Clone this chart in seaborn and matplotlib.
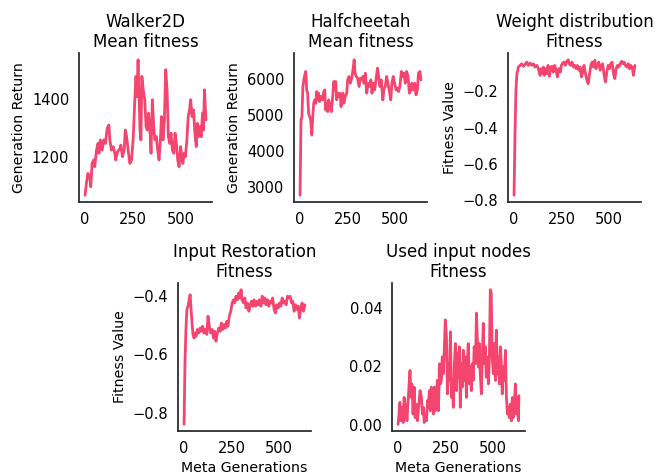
import numpy as np
import pandas as pd
import matplotlib
matplotlib.use("Agg")
import matplotlib.pyplot as plt
import seaborn as sns

# ---------------- data ----------------
walker_gen = [0, 7, 15, 25, 30, 37, 45, 51, 60, 68, 73, 80, 90, 98, 107, 116, 125, 130, 138, 148,
              156, 161, 170, 183, 188, 196, 205, 211, 218, 226, 235, 244, 253, 261, 267, 272, 278, 283, 288, 293,
              298, 305, 313, 320, 326, 333, 341, 346, 353, 360, 366, 374, 381, 388, 395, 401, 409, 416, 423, 430,
              437, 444, 451, 458, 465, 472, 479, 486, 493, 501, 507, 513, 519, 526, 534, 541, 548, 554, 561, 569,
              576, 583, 589, 595, 602, 609, 616, 621, 626, 634]
walker = [1069, 1109, 1144, 1132, 1098, 1178, 1190, 1167, 1224, 1247,
          1213, 1259, 1224, 1259, 1247, 1299, 1310, 1259, 1224, 1236,
          1213, 1190, 1218, 1230, 1241, 1201, 1224, 1293, 1270, 1224,
          1178, 1190, 1270, 1397, 1477, 1408, 1534, 1420, 1293, 1259,
          1477, 1431, 1397, 1305, 1293, 1351, 1282, 1213, 1397, 1305,
          1259, 1270, 1224, 1190, 1259, 1339, 1259, 1328, 1500, 1431,
          1270, 1247, 1282, 1224, 1213, 1282, 1247, 1190, 1167, 1236,
          1201, 1178, 1213, 1201, 1259, 1339, 1362, 1397, 1339, 1362,
          1282, 1236, 1316, 1270, 1305, 1270, 1351, 1293, 1431, 1328]

cheetah_gen = [0, 5, 10, 15, 23, 30, 35, 40, 45, 51, 56, 62, 67, 72, 77, 83, 88, 93, 98, 103,
               110, 118, 125, 130, 135, 140, 146, 151, 158, 165, 172, 178, 183, 188, 193, 198, 203, 211, 216, 221,
               226, 231, 238, 246, 251, 258, 265, 272, 279, 285, 290, 296, 303, 311, 318, 325, 331, 337, 344, 351,
               358, 365, 373, 379, 386, 393, 400, 408, 414, 421, 428, 436, 443, 449, 456, 463, 471, 478, 484, 491,
               498, 506, 513, 519, 526, 534, 541, 548, 554, 561, 569, 576, 583, 589, 596, 604, 611, 618, 624, 632,
               637]
cheetah = [2778, 4861, 4954, 5787, 6065, 6204, 5694, 5602, 5046, 4954,
           4861, 4444, 4954, 5324, 5417, 5324, 5648, 5417, 5602, 5370,
           5509, 5417, 5648, 5694, 5139, 5324, 5093, 5417, 5231, 5093,
           5509, 5926, 5694, 5926, 5417, 5602, 5509, 5602, 5231, 5509,
           5602, 5324, 5509, 5602, 5972, 6065, 5880, 6019, 6250, 6528,
           6157, 6065, 6019, 5787, 6019, 5972, 6065, 5880, 6157, 5602,
           5880, 5787, 5972, 5602, 5880, 5694, 5972, 6296, 6065, 5787,
           5972, 5417, 5741, 5787, 6065, 5880, 5648, 5417, 5880, 6065,
           5880, 5694, 5741, 5648, 5787, 6204, 6065, 6157, 5880, 6204,
           6065, 5602, 5694, 5880, 5694, 5880, 5556, 5694, 6157, 6204,
           5972]

weight_gen = [0, 5, 10, 15, 23, 32, 40, 50, 58, 67, 75, 85, 93, 102, 110, 120, 128, 137, 142, 148,
              155, 160, 167, 172, 179, 186, 193, 200, 207, 214, 221, 228, 235, 243, 249, 256, 263, 270, 278, 285,
              291, 298, 305, 313, 320, 326, 333, 341, 348, 355, 361, 368, 376, 383, 390, 396, 404, 411, 418, 425,
              431, 439, 446, 453, 460, 466, 474, 481, 488, 495, 502, 509, 516, 523, 530, 537, 544, 551, 558, 566,
              572, 579, 586, 593, 601, 607, 614, 621, 628, 636]
weight = [-0.773, -0.433, -0.194, -0.103, -0.066, -0.057,
          -0.048, -0.062, -0.051, -0.039, -0.057, -0.044, -0.057, -0.048, -0.066, -0.057,
          -0.075, -0.112, -0.075, -0.103, -0.066, -0.112, -0.075, -0.103, -0.057, -0.117,
          -0.066, -0.062, -0.094, -0.057, -0.084, -0.121, -0.075, -0.094, -0.057, -0.044,
          -0.039, -0.057, -0.034, -0.026, -0.048, -0.057, -0.039, -0.066, -0.057, -0.075,
          -0.057, -0.084, -0.066, -0.121, -0.094, -0.057, -0.103, -0.139, -0.158, -0.112,
          -0.057, -0.039, -0.066, -0.029, -0.075, -0.057, -0.039, -0.084, -0.057, -0.048,
          -0.112, -0.149, -0.094, -0.057, -0.075, -0.048, -0.039, -0.103, -0.130, -0.075,
          -0.057, -0.066, -0.048, -0.034, -0.048, -0.039, -0.057, -0.066, -0.048, -0.075,
          -0.057, -0.066, -0.112, -0.057]

restoration_gen = [0, 5, 10, 15, 21, 27, 32, 37, 42, 47, 53, 58, 63,
                   70, 77, 85, 91, 98, 105, 112, 120, 126, 133, 140, 148, 155, 161, 168, 175, 183, 190, 196, 203,
                   211, 218, 225, 231, 238, 246, 253, 260, 266, 273, 281, 288, 295, 300, 305,
                   313, 320, 326, 333, 341, 348, 355, 361, 368, 376, 383, 390, 396, 404, 411, 418, 425, 431,
                   439, 446, 453, 460, 466, 474, 481, 488, 495, 502, 509, 516, 523, 530, 537, 544, 551, 558,
                   566, 572, 579, 586, 593, 601, 607, 614, 621, 628, 636]
restoration = [-0.837, -0.628, -0.515, -0.447, -0.436, -0.414, -0.397, -0.447, -0.493, -0.532,
               -0.544, -0.527, -0.538, -0.515, -0.527, -0.510, -0.521, -0.504, -0.527, -0.515,
               -0.532, -0.470, -0.504, -0.527, -0.515, -0.544, -0.521, -0.555, -0.527, -0.510,
               -0.521, -0.493, -0.515, -0.498, -0.510, -0.487, -0.504, -0.470, -0.453, -0.425,
               -0.414, -0.425, -0.402, -0.414, -0.391, -0.408, -0.380, -0.414, -0.425, -0.408,
               -0.442, -0.425, -0.453, -0.431, -0.419, -0.436, -0.414, -0.436, -0.419, -0.431,
               -0.414, -0.436, -0.402, -0.425, -0.408, -0.431, -0.414, -0.436, -0.419, -0.425,
               -0.408, -0.447, -0.459, -0.431, -0.442, -0.425, -0.436, -0.408, -0.425, -0.419,
               -0.431, -0.402, -0.408, -0.402, -0.425, -0.419, -0.453, -0.431, -0.447, -0.436,
               -0.476, -0.442, -0.425, -0.453, -0.431]

used_gen = [0, 5, 10, 15, 21, 27, 32, 37, 42, 47, 53, 58, 63, 68, 73, 79, 85, 90, 95, 102,
            108, 116, 123, 128, 133, 138, 143, 150, 155, 160, 165, 170, 175, 181, 186, 191, 196, 202, 207, 213,
            218, 223, 228, 233, 238, 244, 249, 255, 260, 265, 270, 276, 281, 286, 291, 296, 302, 308, 313, 318,
            323, 328, 333, 338, 344, 349, 355, 360, 365, 370, 376, 381, 386, 391, 396, 401, 408, 413, 418, 423,
            428, 433, 439, 444, 449, 454, 460, 465, 471, 476, 481, 486, 491, 496, 502, 507, 513, 518, 523, 528,
            534, 539, 544, 549, 554, 559, 566, 571, 576, 581, 586, 591, 597, 602, 607, 613, 618, 623, 628, 634,
            637]
used_nodes = [0.0002, 0.0037, 0.0077, 0.0014, 0.0060, 0.0008, 0.0094, 0.0025, 0.0071, 0.0014,
              0.0083, 0.0134, 0.0186, 0.0094, 0.0140, 0.0037, 0.0129, 0.0025, 0.0071, 0.0014,
              0.0060, 0.0117, 0.0094, 0.0037, 0.0060, 0.0008, 0.0037, 0.0014, 0.0083, 0.0060,
              0.0117, 0.0048, 0.0129, 0.0083, 0.0037, 0.0129, 0.0048, 0.0083, 0.0152, 0.0048,
              0.0209, 0.0140, 0.0152, 0.0232, 0.0175, 0.0267, 0.0359, 0.0301, 0.0106, 0.0209,
              0.0152, 0.0318, 0.0094, 0.0152, 0.0060, 0.0198, 0.0278, 0.0117, 0.0244, 0.0163,
              0.0267, 0.0060, 0.0209, 0.0129, 0.0255, 0.0152, 0.0232, 0.0094, 0.0221, 0.0278,
              0.0140, 0.0198, 0.0117, 0.0209, 0.0152, 0.0267, 0.0209, 0.0382, 0.0290, 0.0198,
              0.0278, 0.0175, 0.0106, 0.0232, 0.0347, 0.0209, 0.0267, 0.0163, 0.0232, 0.0140,
              0.0221, 0.0462, 0.0451, 0.0232, 0.0175, 0.0278, 0.0152, 0.0324, 0.0175, 0.0232,
              0.0140, 0.0267, 0.0209, 0.0106, 0.0198, 0.0152, 0.0255, 0.0094, 0.0037, 0.0060,
              0.0025, 0.0071, 0.0014, 0.0094, 0.0025, 0.0071, 0.0140, 0.0037, 0.0094, 0.0014,
              0.0100]

titles = ["Walker2D\nMean fitness", "Halfcheetah\nMean fitness",
          "Weight distribution\nFitness", "Input Restoration\nFitness",
          "Used input nodes\nFitness"]
ylabels = ["Generation Return", "Generation Return", "Fitness Value",
           "Fitness Value", ""]
xlabels = ["", "", "", "Meta Generations", "Meta Generations"]
series = [(walker_gen, walker), (cheetah_gen, cheetah), (weight_gen, weight),
          (restoration_gen, restoration), (used_gen, used_nodes)]
yticks = [[1200, 1400], [3000, 4000, 5000, 6000], [-0.8, -0.6, -0.4, -0.2],
          [-0.8, -0.6, -0.4], [0.00, 0.02, 0.04]]
xticks = [0, 250, 500]

# ---------------- style ----------------
sns.set_theme(style="white")
plt.rcParams['font.family'] = ['DejaVu Sans']
plt.rcParams.update({"text.color": "black", "axes.labelcolor": "black",
                     "xtick.color": "black", "ytick.color": "black"})

LINE_COLOR = "#f4456f"

fig = plt.figure(figsize=(6.71, 4.75), dpi=100)
W, H = 671, 475
boxes = [(79, 53, 212, 202), (294, 53, 427, 202), (508, 53, 641, 202),
         (178, 283, 311, 431), (392, 283, 525, 431)]

for i, (gens, vals) in enumerate(series):
    l, t, r, b = boxes[i]
    ax = fig.add_axes([l / W, 1 - b / H, (r - l) / W, (b - t) / H])
    df = pd.DataFrame({"gen": gens, "val": vals})
    sns.lineplot(data=df, x="gen", y="val", ax=ax, color=LINE_COLOR, linewidth=2)
    ax.set_title(titles[i], fontsize=12, pad=4, color="black")
    ax.set_ylabel(ylabels[i], fontsize=10.2)
    ax.set_xlabel(xlabels[i], fontsize=10.2)
    ax.set_xticks(xticks)
    ax.set_yticks(yticks[i])
    if i == 4:
        ax.set_yticklabels(["0.00", "0.02", "0.04"])
    ax.tick_params(axis="both", labelsize=10.5, pad=7, length=0)
    for s in ["left", "bottom"]:
        ax.spines[s].set_color("#262626")
        ax.spines[s].set_linewidth(1.25)
    sns.despine(ax=ax)

fig.savefig("out.png", dpi=100)
